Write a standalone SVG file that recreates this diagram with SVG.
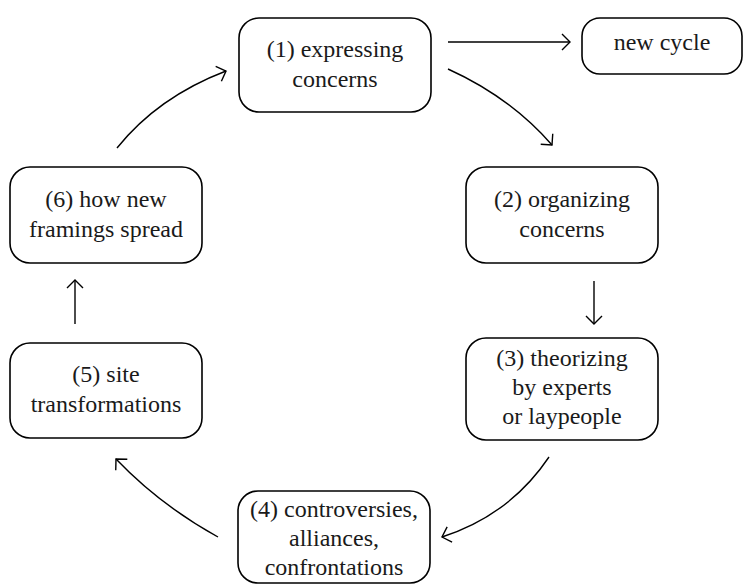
<svg xmlns="http://www.w3.org/2000/svg" width="745" height="586" viewBox="0 0 745 586">
<style>
.box{fill:#fff;stroke:#000;stroke-width:1.6}
.t{font-family:"Liberation Serif","DejaVu Serif",serif;font-size:24px;fill:#1a1a1a;text-anchor:middle}
.e{fill:none;stroke:#000;stroke-width:1.4;marker-end:url(#ah)}
</style>
<defs>
<marker id="ah" markerUnits="userSpaceOnUse" markerWidth="24" markerHeight="24" viewBox="-12 -12 24 24" refX="0" refY="0" orient="auto">
<path d="M-8,-8 L0,0 L-8,8" fill="none" stroke="#000" stroke-width="1.4"/>
</marker>
</defs>
<rect width="745" height="586" fill="#fff"/>
<g id="connectors">
<path class="e" d="M448,42 H570"/>
<path class="e" d="M448,69 Q510,97 552,145"/>
<path class="e" d="M594,281 V324"/>
<path class="e" d="M549,457 Q510,515 442,537"/>
<path class="e" d="M218,537 Q160,505 116,459"/>
<path class="e" d="M75,324 V280"/>
<path class="e" d="M117,148 Q158,97 226,71"/>
</g>
<g id="n1">
<rect class="box" x="239" y="18" width="192" height="94" rx="20"/>
<text class="t" x="335" y="57">(1) expressing</text>
<text class="t" x="335" y="87">concerns</text>
</g>
<g id="nc">
<rect class="box" x="582" y="18" width="160" height="56" rx="18"/>
<text class="t" x="662" y="50">new cycle</text>
</g>
<g id="n2">
<rect class="box" x="466" y="167" width="192" height="96" rx="20"/>
<text class="t" x="562" y="207">(2) organizing</text>
<text class="t" x="562" y="237">concerns</text>
</g>
<g id="n3">
<rect class="box" x="466" y="338" width="192" height="102" rx="20"/>
<text class="t" x="562" y="366">(3) theorizing</text>
<text class="t" x="562" y="395">by experts</text>
<text class="t" x="562" y="424">or laypeople</text>
</g>
<g id="n4">
<rect class="box" x="238" y="491" width="192" height="92" rx="20"/>
<text class="t" x="334" y="517">(4) controversies,</text>
<text class="t" x="334" y="546">alliances,</text>
<text class="t" x="334" y="575">confrontations</text>
</g>
<g id="n5">
<rect class="box" x="10" y="343" width="192" height="95" rx="20"/>
<text class="t" x="106" y="382">(5) site</text>
<text class="t" x="106" y="412">transformations</text>
</g>
<g id="n6">
<rect class="box" x="10" y="167" width="192" height="96" rx="20"/>
<text class="t" x="106" y="207">(6) how new</text>
<text class="t" x="106" y="237">framings spread</text>
</g>
</svg>
